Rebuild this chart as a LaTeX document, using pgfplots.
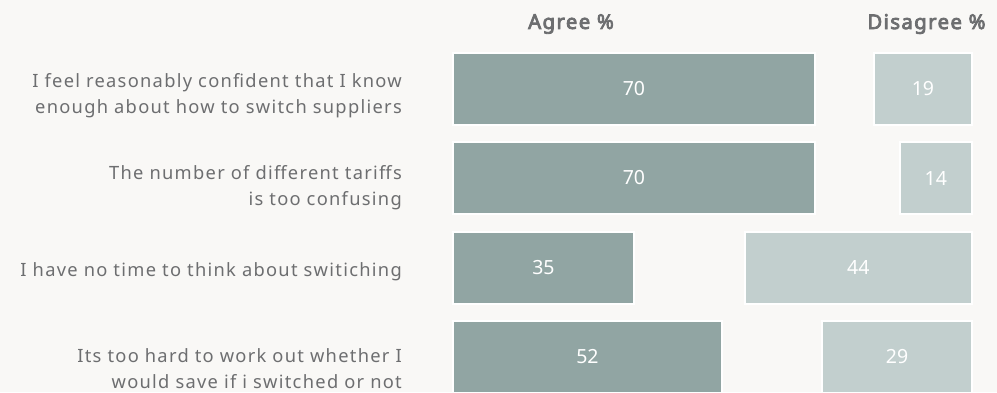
\documentclass[border=0pt]{standalone}
\usepackage{pgfplots}
\pgfplotsset{compat=1.18}
\usepackage{pgfplotstable}
\usepackage{fontspec}
\setmainfont{Noto Sans}
\newfontfamily\labelfont{Noto Sans}[LetterSpace=7]
\newfontfamily\hdrfont{Noto Sans}[FakeBold=4, LetterSpace=7]
\definecolor{bgc}{HTML}{F9F8F6}
\definecolor{txt}{HTML}{6D6E70}
\definecolor{darkbar}{HTML}{91A5A3}
\definecolor{lightbar}{HTML}{C2CFCE}
\pgfplotstableread{
row agree disagree
1 70 19
2 70 14
3 35 44
4 52 29
}\data
\begin{document}
\begin{tikzpicture}[x=1bp,y=1bp]
\useasboundingbox (0,0) rectangle (997,392);
\fill[bgc] (0,0) rectangle (997,392);
\clip (0,0) rectangle (997,392);
\node[font=\hdrfont\fontsize{20.3bp}{24bp}\selectfont, text=txt] at (571,368) {Agree \%};
\node[font=\hdrfont\fontsize{20.3bp}{24bp}\selectfont, text=txt, anchor=east] at (989,368) {Disagree \%};
\begin{axis}[
  at={(453bp,-9.75bp)}, anchor=south west,
  scale only axis, width=519bp, height=358bp,
  xmin=0, xmax=100.4, ymin=0.5, ymax=4.5, y dir=reverse,
  axis line style={draw=none}, tick style={draw=none},
  xtick=\empty, ytick={1.075,2.11,3.05,4.135},
  yticklabels={{I feel reasonably confident that I know\\enough about how to switch suppliers},
               {The number of different tariffs\\is too confusing},
               {I have no time to think about switiching},
               {Its too hard to work out whether I\\would save if i switched or not}},
  yticklabel style={font=\labelfont\fontsize{18.3bp}{26bp}\selectfont, text=txt, align=right, inner sep=0pt, anchor=east, xshift=-51bp},
  /pgf/number format/assume math mode=true,
  clip=false,
]
\addplot[xbar, bar width=72bp, fill=darkbar, draw=white, line width=2bp] table[x=agree, y=row] {\data};
\addplot[draw=none, mark=none, nodes near coords, point meta=\thisrow{agree},
  nodes near coords style={anchor=center, text=white, font=\fontsize{19.5bp}{23bp}\selectfont}]
  table[x expr=\thisrow{agree}/2, y=row] {\data};
\end{axis}
\begin{axis}[
  at={(453bp,-9.75bp)}, anchor=south west,
  scale only axis, width=519bp, height=358bp,
  xmin=0, xmax=100.4, ymin=0.5, ymax=4.5, y dir=reverse, x dir=reverse,
  hide axis,
  /pgf/number format/assume math mode=true,
  clip=false,
]
\addplot[xbar, bar width=72bp, fill=lightbar, draw=white, line width=2bp] table[x=disagree, y=row] {\data};
\addplot[draw=none, mark=none, nodes near coords, point meta=\thisrow{disagree},
  nodes near coords style={anchor=center, text=white, font=\fontsize{19.5bp}{23bp}\selectfont}]
  table[x expr=\thisrow{disagree}/2, y=row] {\data};
\end{axis}
\end{tikzpicture}
\end{document}
